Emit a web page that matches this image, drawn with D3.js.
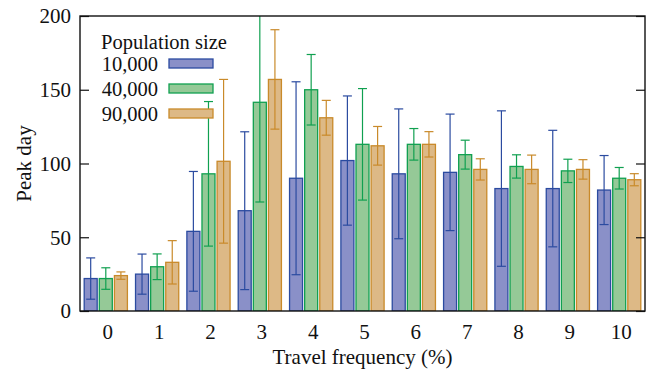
<!DOCTYPE html>
<html>
<head>
<meta charset="utf-8">
<script src="https://cdn.jsdelivr.net/npm/d3@7"></script>
<style>
  body { margin: 0; background: #fff; }
</style>
</head>
<body>
<div id="chart"></div>
<script>
const categories = ['0', '1', '2', '3', '4', '5', '6', '7', '8', '9', '10'];
const seriesNames = ['10,000', '40,000', '90,000'];

const mean10k = [22, 25, 54, 68, 90, 102, 93, 94, 83, 83, 82];
const err10k = [14, 13.6, 40.6, 53.5, 65.4, 43.8, 44, 39.5, 52.7, 39.5, 23.4];
const mean40k = [22, 30, 93, 141.5, 150, 113, 113, 106, 98, 95, 90];
const err40k = [7.3, 8.7, 49, 67.6, 23.9, 37.8, 10.7, 9.8, 7.9, 7.9, 7.3];
const mean90k = [24, 33, 101.5, 157, 131, 112, 113, 96, 96, 96, 89];
const err90k = [2.5, 14.7, 55.5, 33.7, 11.8, 13.1, 8.6, 7.2, 9.7, 6.6, 4.1];

const yTicks = [0, 50, 100, 150, 200];

const fills = ['#8a90c8', '#95c997', '#ddb986'];
const strokes = ['#2b4ba0', '#10a050', '#c98a2a'];

const means = [mean10k, mean40k, mean90k];
const errs = [err10k, err40k, err90k];

const width = 664, height = 373;
const margin = {top: 16, right: 19, bottom: 62, left: 80};
const w = width - margin.left - margin.right,
  h = height - margin.top - margin.bottom;
const font = "'Liberation Serif', 'Times New Roman', Times, 'DejaVu Serif', serif";

const svg = d3.select('#chart').append('svg')
  .attr('width', width)
  .attr('height', height)
  .attr('font-family', font)
  .style('font-family', font);

svg.append('defs').append('clipPath').attr('id', 'clip')
  .append('rect').attr('width', w).attr('height', h);

const g = svg.append('g')
  .attr('transform', 'translate(' + margin.left + ',' + margin.top + ')');

const x = d3.scaleBand()
  .domain(categories)
  .range([0, w])
  .paddingInner(0.135)
  .paddingOuter(0.07);

const xs = d3.scaleBand()
  .domain(seriesNames)
  .range([0, x.bandwidth()])
  .paddingInner(0.06);

const y = d3.scaleLinear()
  .domain([0, 200])
  .range([h, 0]);

const rows = categories.map((c, i) => ({
  cat: c,
  vals: seriesNames.map((s, k) => ({s, k, m: means[k][i], e: errs[k][i]}))
}));

const plot = g.append('g').attr('clip-path', 'url(#clip)');

const groups = plot.selectAll('.grp')
  .data(rows)
  .enter().append('g')
  .attr('class', 'grp')
  .attr('transform', d => 'translate(' + x(d.cat) + ',0)');

groups.selectAll('rect')
  .data(d => d.vals)
  .enter().append('rect')
  .attr('x', d => xs(d.s) + 0.6)
  .attr('width', xs.bandwidth() - 1.2)
  .attr('y', d => y(d.m))
  .attr('height', d => h - y(d.m))
  .attr('fill', d => fills[d.k])
  .attr('stroke', d => strokes[d.k])
  .attr('stroke-width', 1.3);

// error bars
const eb = groups.selectAll('.err')
  .data(d => d.vals)
  .enter().append('g')
  .attr('class', 'err')
  .attr('stroke', d => strokes[d.k])
  .attr('stroke-width', 1.2);

const cx = d => xs(d.s) + xs.bandwidth() / 2;
eb.append('line')
  .attr('x1', cx).attr('x2', cx)
  .attr('y1', d => y(d.m - d.e)).attr('y2', d => y(d.m + d.e));
eb.append('line')
  .attr('x1', d => cx(d) - 4.5).attr('x2', d => cx(d) + 4.5)
  .attr('y1', d => y(d.m + d.e)).attr('y2', d => y(d.m + d.e));
eb.append('line')
  .attr('x1', d => cx(d) - 4.5).attr('x2', d => cx(d) + 4.5)
  .attr('y1', d => y(d.m - d.e)).attr('y2', d => y(d.m - d.e));

// border
g.append('rect')
  .attr('width', w).attr('height', h)
  .attr('fill', 'none')
  .attr('stroke', '#111')
  .attr('stroke-width', 1.4);

// left and right axes, ticks inward
const yl = g.append('g')
  .call(d3.axisRight(y).tickValues(yTicks).tickSize(9).tickFormat(''));
yl.select('.domain').remove();
yl.selectAll('line').attr('stroke', '#111').attr('stroke-width', 1.2);

const yr = g.append('g')
  .attr('transform', 'translate(' + w + ',0)')
  .call(d3.axisLeft(y).tickValues(yTicks).tickSize(9).tickFormat(''));
yr.select('.domain').remove();
yr.selectAll('line').attr('stroke', '#111').attr('stroke-width', 1.2);

const label = (sel, size) => sel.attr('fill', '#111')
  .attr('font-family', font)
  .style('font-family', font)
  .style('font-size', (size || 21) + 'px');

// y tick labels
g.selectAll('.ylab')
  .data(yTicks)
  .enter().append('text')
  .attr('x', -9)
  .attr('y', d => y(d))
  .attr('dy', '0.35em')
  .attr('text-anchor', 'end')
  .call(label)
  .text(d => d);

// x tick labels
g.selectAll('.xlab')
  .data(categories)
  .enter().append('text')
  .attr('x', d => x(d) + x.bandwidth() / 2 + 2)
  .attr('y', h + 28)
  .attr('text-anchor', 'middle')
  .call(label)
  .text(d => d);

svg.append('text')
  .attr('x', margin.left + w / 2)
  .attr('y', 364)
  .attr('text-anchor', 'middle')
  .call(label)
  .text('Travel frequency (%)');

svg.append('text')
  .attr('transform', 'translate(31,' + (margin.top + h / 2) + ') rotate(-90)')
  .attr('text-anchor', 'middle')
  .call(label)
  .text('Peak day');

// legend
const leg = svg.append('g');
leg.append('text')
  .attr('x', 101).attr('y', 49)
  .call(label, 20.5)
  .text('Population size');
seriesNames.forEach((s, k) => {
  const yy = 64 + k * 25;
  leg.append('text')
    .attr('x', 158).attr('y', yy)
    .attr('dy', '0.35em')
    .attr('text-anchor', 'end')
    .call(label, 20.5)
    .text(s);
  leg.append('rect')
    .attr('x', 169).attr('y', yy - 5)
    .attr('width', 44).attr('height', 9)
    .attr('fill', fills[k])
    .attr('stroke', strokes[k])
    .attr('stroke-width', 1.3);
});
</script>
</body>
</html>
